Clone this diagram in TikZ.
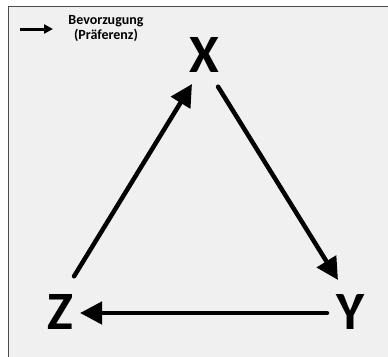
\documentclass[tikz,border=0pt]{standalone}
\usepackage{fontspec}
\setmainfont{Carlito}
\usetikzlibrary{arrows.meta}
\begin{document}
\begin{tikzpicture}[x=1pt,y=-1pt,
  letter/.style={font=\fontsize{54}{60}\selectfont\bfseries, inner sep=0pt, anchor=center},
  legtext/.style={font=\fontsize{14}{16}\selectfont\bfseries, inner sep=0pt, anchor=base},
  pref/.style={line width=4.5pt, -{Triangle[length=22pt,width=22pt]}, shorten <=2pt},
  legarrow/.style={line width=3pt, -{Triangle[length=9pt,width=9pt]}}]
\useasboundingbox (0,0) rectangle (388,356);
\fill[white] (0,0) rectangle (388,356);
\begin{scope}
\clip (0,0) rectangle (388,356);
\draw[draw=black!70, fill=black!6, line width=1pt] (8,6) rectangle (400,370);
\end{scope}
\node[letter] (X) at (204,55) {X};
\node[letter] (Y) at (351,312) {Y};
\node[letter] (Z) at (60.5,312) {Z};
\coordinate (zs) at (73,278);
\coordinate (xt) at (192,84);
\coordinate (xs) at (217,85);
\coordinate (yt) at (338,280);
\coordinate (ys) at (329,313);
\coordinate (zt) at (80,313);
\draw[pref, line cap=round] (zs) -- (xt);
\draw[pref, line cap=round] (xs) -- (yt);
\draw[pref, line cap=round] (ys) -- (zt);
\coordinate (la) at (20,29);
\coordinate (lb) at (53,29);
\draw[legarrow] (la) -- (lb);
\node[legtext] (l1) at (106,24) {Bevorzugung};
\node[legtext] (l2) at (106,39.5) {(Präferenz)};
\end{tikzpicture}
\end{document}
